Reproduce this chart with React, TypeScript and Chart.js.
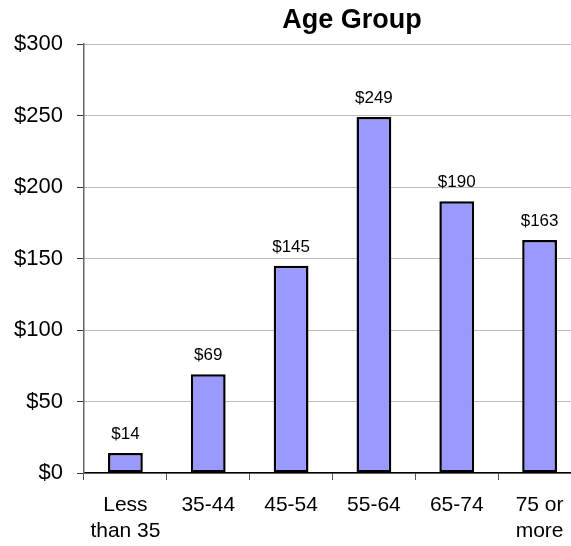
import React, { useEffect, useRef } from "react";
import { Chart, registerables } from "chart.js";

Chart.register(...registerables);

const chartTitle = "Age Group";
const categories: (string | string[])[] = [
  ["Less", "than 35"],
  "35-44",
  "45-54",
  "55-64",
  "65-74",
  ["75 or", "more"],
];
const values = [14, 69, 145, 249, 190, 163];
const yMin = 0;
const yMax = 300;
const yStep = 50;

const FONT = "'Liberation Sans', Arial, sans-serif";

const titlePlugin = {
  id: "customTitle",
  afterDraw(chart: any) {
    const ctx = chart.ctx;
    ctx.save();
    ctx.font = `bold 27px ${FONT}`;
    ctx.fillStyle = "#000";
    ctx.textAlign = "center";
    ctx.textBaseline = "alphabetic";
    ctx.fillText(chartTitle, 352, 28);
    ctx.restore();
  },
};

const valueLabelPlugin = {
  id: "valueLabels",
  afterDatasetsDraw(chart: any) {
    const ctx = chart.ctx;
    const meta = chart.getDatasetMeta(0);
    ctx.save();
    ctx.font = `17px ${FONT}`;
    ctx.fillStyle = "#000";
    ctx.textAlign = "center";
    ctx.textBaseline = "alphabetic";
    meta.data.forEach((bar: any, i: number) => {
      ctx.fillText(`$${values[i]}`, bar.x, bar.y - 14);
    });
    ctx.restore();
  },
};

export default function App() {
  const ref = useRef<HTMLCanvasElement>(null);

  useEffect(() => {
    if (!ref.current) return;
    const chart = new Chart(ref.current, {
      type: "bar",
      data: {
        labels: categories,
        datasets: [
          {
            data: values,
            backgroundColor: "#9999FF",
            borderColor: "#000000",
            borderWidth: 2.5,
            borderSkipped: false,
            barPercentage: 0.42,
            categoryPercentage: 1,
          },
        ],
      },
      options: {
        responsive: false,
        animation: false,
        devicePixelRatio: 1,
        layout: { padding: { top: 44, left: 0, right: 0, bottom: 0 } },
        plugins: {
          legend: { display: false },
          title: { display: false },
          tooltip: { enabled: false },
        },
        scales: {
          x: {
            offset: true,
            afterFit: (scale: any) => {
              scale.height = 73;
            },
            grid: {
              display: true,
              offset: true,
              drawOnChartArea: false,
              drawTicks: true,
              tickLength: 7,
              tickColor: "#555",
              tickWidth: 1,
            },
            border: { display: true, color: "#000", width: 1.5 },
            ticks: {
              color: "#000",
              padding: 13,
              maxRotation: 0,
              autoSkip: false,
              font: { family: FONT, size: 21, lineHeight: 1.2 },
            },
          },
          y: {
            min: yMin,
            max: yMax,
            afterFit: (scale: any) => {
              scale.width = 84;
            },
            grid: {
              color: "#777",
              lineWidth: 1,
              drawTicks: true,
              tickLength: 7,
              tickColor: "#333",
              tickWidth: 1,
            },
            border: { display: true, color: "#666", width: 1.5, dash: [1, 1] },
            ticks: {
              stepSize: yStep,
              color: "#000",
              padding: 14,
              font: { family: FONT, size: 22 },
              callback: (v: any) => `$${v}`,
            },
          },
        },
      },
      plugins: [titlePlugin, valueLabelPlugin],
    });
    return () => chart.destroy();
  }, []);

  return (
    <div
      style={{
        position: "absolute",
        left: 0,
        top: 0,
        width: 571,
        height: 546,
        overflow: "hidden",
        background: "#fff",
      }}
    >
      <canvas ref={ref} width={581} height={546} style={{ display: "block" }} />
    </div>
  );
}
